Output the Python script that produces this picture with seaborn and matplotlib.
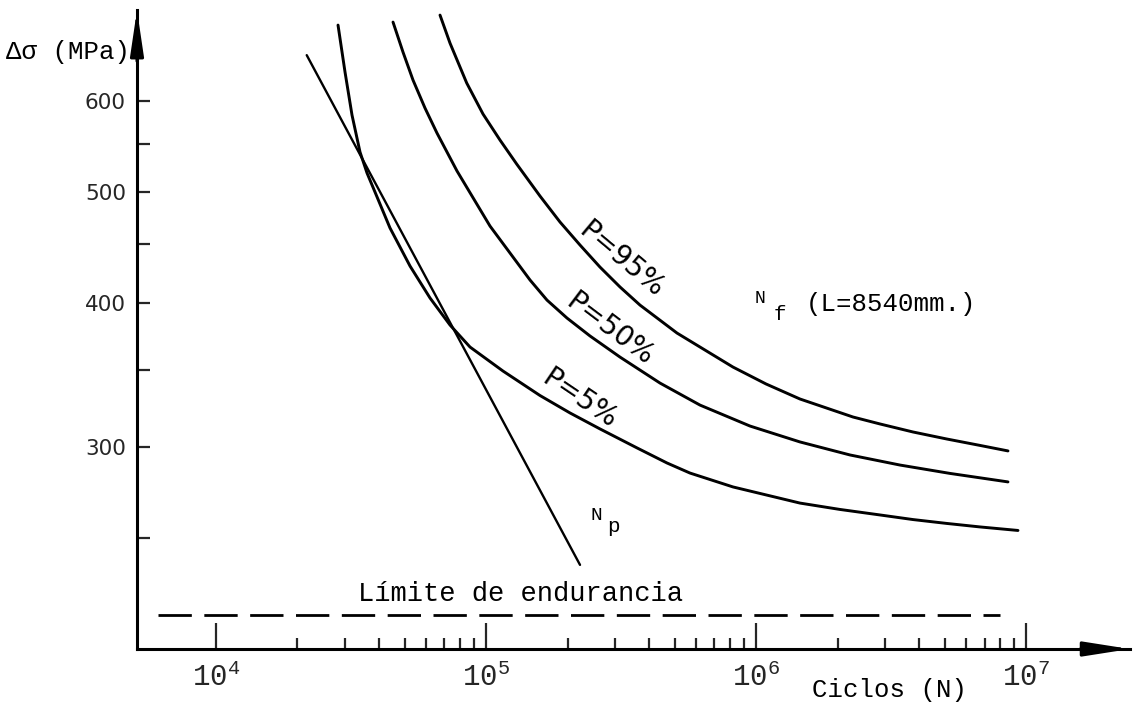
import matplotlib
matplotlib.use("Agg")
import matplotlib.pyplot as plt
from matplotlib.ticker import FixedLocator, NullFormatter
import pandas as pd
import seaborn as sns

# --- S-N data: cycles to failure (N) and stress range (MPa) -------------
n_p95 = [67440, 73450, 84690, 97310, 112500, 129700, 158200, 187600,
         222500, 263800, 312900, 371000, 508600, 819700, 1.086e6, 1.451e6,
         2.281e6, 2.871e6, 3.803e6, 5.069e6, 6.733e6, 8.548e6]
s_p95 = [712.0, 673.1, 621.4, 584.0, 554.3, 528.3, 495.5, 470.4,
         449.2, 429.8, 413.0, 398.3, 376.6, 351.8, 340.1, 330.0,
         318.3, 313.9, 308.9, 304.6, 300.7, 297.4]

n_p50 = [45180, 49200, 53580, 59350, 65740, 77970, 103300, 145300,
         167900, 199100, 242300, 312900, 440000, 618800, 947700, 1.451e6,
         2.223e6, 3.405e6, 5.214e6, 8.548e6]
s_p50 = [702.1, 661.1, 625.1, 591.0, 562.1, 521.0, 466.6, 418.8,
         402.3, 388.1, 374.4, 358.9, 340.7, 326.0, 312.6, 302.8,
         295.0, 289.1, 284.3, 279.5]

n_p5 = [28270, 30010, 31850, 34100, 36200, 38750, 44040, 52230, 61940,
        73450, 87100, 115400, 158200, 204300, 263800, 361700, 467100,
        568300, 819700, 1.451e6, 2.041e6, 2.871e6, 3.803e6, 5.069e6,
        6.733e6, 9.309e6]
s_p5 = [697.9, 635.2, 582.8, 541.2, 518.9, 499.5, 464.8, 430.7, 404.0,
        382.7, 366.2, 349.0, 332.3, 320.9, 310.8, 299.2, 290.3,
        284.5, 276.7, 267.9, 264.5, 261.6, 259.2, 257.2,
        255.4, 253.6]

# crack initiation life N_p (straight line on log-log axes)
n_np = [21650, 222500]
s_np = [657.1, 236.7]

# endurance limit
endurance_limit = 214
endurance_n = [6100, 8.0e6]

# axis ticks and labels
x_major = [1e4, 1e5, 1e6, 1e7]
x_major_labels = [r"$\mathregular{10^{4}}$", r"$\mathregular{10^{5}}$",
                  r"$\mathregular{10^{6}}$", r"$\mathregular{10^{7}}$"]
x_minor = [k * 10 ** d for d in (4, 5, 6) for k in range(2, 10)]
y_major = [300, 400, 500, 600]
y_major_labels = ["300", "400", "500", "600"]
y_minor = [250, 350, 450, 550]

sns.set_style("white")
plt.rcParams["font.family"] = ["Liberation Mono", "DejaVu Sans"]

W, H = 1141, 715
fig = plt.figure(figsize=(W / 100, H / 100), dpi=100)
fig.patch.set_facecolor("white")


def fx(px):
    return px / W


def fy(py):
    return 1 - py / H


ax = fig.add_axes([fx(137), fy(649), fx(1130) - fx(137), fy(10) - fy(649)])
ax.set_xscale("log")
ax.set_yscale("log")

curves = pd.concat([
    pd.DataFrame({"N": n_p95, "S": s_p95, "curva": "P=95%"}),
    pd.DataFrame({"N": n_p50, "S": s_p50, "curva": "P=50%"}),
    pd.DataFrame({"N": n_p5, "S": s_p5, "curva": "P=5%"}),
])
sns.lineplot(data=curves, x="N", y="S", units="curva", estimator=None,
             sort=False, color="black", lw=2.1, ax=ax, legend=False)
sns.lineplot(x=n_np, y=s_np, color="black", lw=1.7, sort=False,
             estimator=None, ax=ax, legend=False)
ax.plot(endurance_n, [endurance_limit, endurance_limit], color="black",
        lw=2.0, dashes=(12, 4.5), solid_capstyle="butt")

ax.set_xlim(5094, 2.419e7)
ax.set_ylim(200, 719.3)

# axes: only left and bottom, ending in arrows
for side in ("top", "right"):
    ax.spines[side].set_visible(False)
for side in ("left", "bottom"):
    ax.spines[side].set_linewidth(2.2)
    ax.spines[side].set_color("black")

ax.annotate("", xy=(0, 1.0), xytext=(0, 0.92), xycoords="axes fraction",
            arrowprops=dict(arrowstyle="-|>,head_length=1.35,head_width=0.2",
                            mutation_scale=20, lw=2.2, color="black",
                            shrinkA=0, shrinkB=0), annotation_clip=False)
ax.annotate("", xy=(1.0, 0), xytext=(0.95, 0), xycoords="axes fraction",
            arrowprops=dict(arrowstyle="-|>,head_length=1.4,head_width=0.22",
                            mutation_scale=20, lw=2.2, color="black",
                            shrinkA=0, shrinkB=0), annotation_clip=False)

# ticks
ax.xaxis.set_major_locator(FixedLocator(x_major))
ax.xaxis.set_minor_locator(FixedLocator(x_minor))
ax.xaxis.set_minor_formatter(NullFormatter())
ax.set_xticklabels(x_major_labels)
ax.yaxis.set_major_locator(FixedLocator(y_major))
ax.yaxis.set_minor_locator(FixedLocator(y_minor))
ax.yaxis.set_minor_formatter(NullFormatter())
ax.set_yticklabels(y_major_labels)

ax.tick_params(axis="x", which="major", direction="in", length=19, width=1.6,
               pad=10, labelsize=21, bottom=True)
ax.tick_params(axis="x", which="minor", direction="in", length=8, width=1.6,
               bottom=True)
ax.tick_params(axis="y", which="both", direction="in", length=9, width=1.6,
               pad=8, left=True)
ax.tick_params(axis="y", which="major", labelsize=15.5)
for lbl in ax.get_xticklabels():
    lbl.set_fontfamily("Liberation Mono")
for lbl in ax.get_yticklabels():
    lbl.set_fontfamily("DejaVu Sans")
ax.set_xlabel("")
ax.set_ylabel("")
ax.grid(False)

mono = dict(family=["Liberation Mono", "DejaVu Sans Mono"], color="black")

# axis titles
fig.text(fx(130), fy(52), "Δσ (MPa)", ha="right", va="center", size=18.5, **mono)
fig.text(fx(890), fy(690), "Ciclos (N)", ha="center", va="center", size=18.5, **mono)

# endurance limit label
fig.text(fx(521), fy(594), "Límite de endurancia", ha="center", va="center",
         size=19.5, **mono)

# probability labels along the curves
hand = dict(family="DejaVu Sans", color="black", size=20, ha="center",
            va="center", rotation_mode="anchor")
fig.text(fx(621), fy(260), "P=95%", rotation=-40, **hand)
fig.text(fx(610), fy(329), "P=50%", rotation=-37, **hand)
fig.text(fx(580), fy(399), "P=5%", rotation=-34, **hand)

# N_f and N_p labels
fig.text(fx(760), fy(298), "N", ha="center", va="center", size=13, **mono)
fig.text(fx(780), fy(314), "f", ha="center", va="center", size=15, **mono)
fig.text(fx(806), fy(304), "(L=8540mm.)", ha="left", va="center", size=18.5, **mono)
fig.text(fx(596), fy(515), "N", ha="center", va="center", size=14, **mono)
fig.text(fx(613), fy(527), "p", ha="center", va="center", size=15, **mono)

fig.savefig("out.png", dpi=100, facecolor="white")
